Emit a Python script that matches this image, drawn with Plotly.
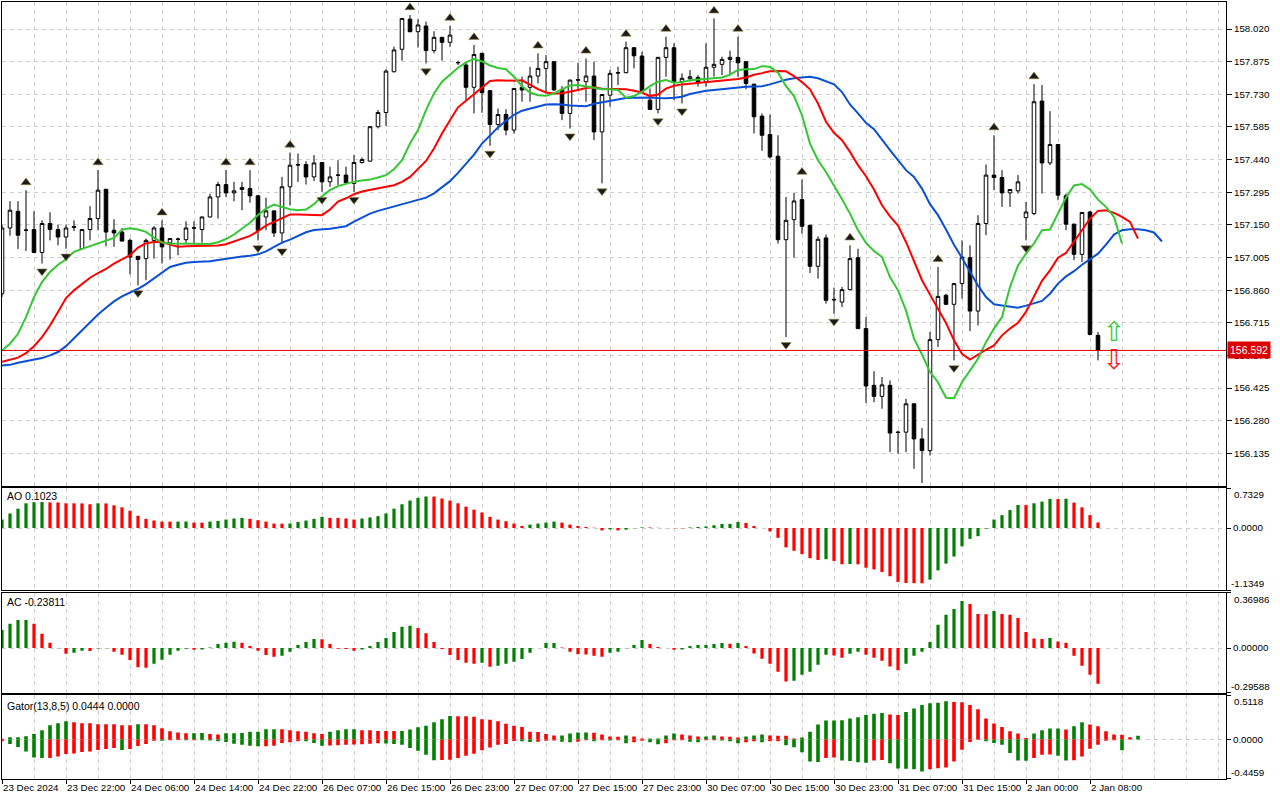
import plotly.graph_objects as go

# ---------------- data ----------------
tick_bars = [0, 8, 16, 24, 32, 40, 48, 56, 64, 72, 80, 88, 96, 104, 112, 120, 128, 136]
tick_labels = ["23 Dec 2024", "23 Dec 22:00", "24 Dec 06:00", "24 Dec 14:00", "24 Dec 22:00",
               "26 Dec 07:00", "26 Dec 15:00", "26 Dec 23:00", "27 Dec 07:00", "27 Dec 15:00",
               "27 Dec 23:00", "30 Dec 07:00", "30 Dec 15:00", "30 Dec 23:00", "31 Dec 07:00",
               "31 Dec 15:00", "2 Jan 00:00", "2 Jan 08:00"]

price_ticks = [158.020, 157.875, 157.730, 157.585, 157.440, 157.295, 157.150, 157.005,
               156.860, 156.715, 156.570, 156.425, 156.280, 156.135]

opens = [156.844, 157.136, 157.210, 157.126, 157.129, 157.027, 157.156, 157.129, 157.096, 157.138,
         157.044, 157.129, 157.178, 157.308, 157.126, 157.118, 157.081, 157.010, 157.000, 157.081,
         157.136, 157.070, 157.087, 157.084, 157.135, 157.129, 157.185, 157.274, 157.329, 157.292,
         157.307, 157.311, 157.279, 157.185, 157.212, 157.114, 157.319, 157.418, 157.418, 157.363,
         157.427, 157.341, 157.370, 157.371, 157.334, 157.427, 157.433, 157.586, 157.649, 157.830,
         157.930, 158.064, 158.008, 158.033, 157.924, 157.983, 157.961, 157.870, 157.860, 157.761,
         157.912, 157.746, 157.596, 157.640, 157.571, 157.761, 157.761, 157.811, 157.845, 157.875,
         157.752, 157.645, 157.795, 157.786, 157.811, 157.563, 157.726, 157.824, 157.826, 157.937,
         157.900, 157.704, 157.663, 157.894, 157.937, 157.786, 157.799, 157.805, 157.786, 157.850,
         157.863, 157.885, 157.894, 157.875, 157.775, 157.633, 157.551, 157.455, 157.084, 157.173,
         157.262, 157.148, 156.966, 157.092, 156.819, 156.807, 156.862, 157.004, 156.689, 156.437,
         156.388, 156.437, 156.229, 156.229, 156.355, 156.199, 156.147, 156.640, 156.837, 156.797,
         156.889, 157.004, 156.767, 157.156, 157.371, 157.360, 157.292, 157.301, 157.182, 157.200,
         157.700, 157.425, 157.507, 157.279, 157.153, 157.019, 157.207, 156.659]
highs = [157.150, 157.255, 157.255, 157.304, 157.210, 157.170, 157.206, 157.151, 157.151, 157.170,
         157.131, 157.233, 157.393, 157.310, 157.175, 157.136, 157.089, 157.012, 157.089, 157.144,
         157.170, 157.091, 157.093, 157.166, 157.166, 157.187, 157.289, 157.341, 157.393, 157.341,
         157.341, 157.393, 157.281, 157.271, 157.214, 157.363, 157.471, 157.467, 157.433, 157.460,
         157.429, 157.408, 157.437, 157.408, 157.460, 157.449, 157.588, 157.660, 157.841, 157.941,
         158.069, 158.082, 158.064, 158.053, 158.010, 157.985, 158.035, 157.879, 157.875, 157.949,
         157.914, 157.748, 157.667, 157.664, 157.758, 157.808, 157.852, 157.912, 157.904, 157.877,
         157.766, 157.795, 157.870, 157.889, 157.875, 157.731, 157.838, 157.852, 157.964, 157.939,
         157.919, 157.756, 157.896, 157.986, 157.956, 157.823, 157.838, 157.815, 157.956, 158.067,
         157.897, 157.924, 157.986, 157.877, 157.777, 157.645, 157.640, 157.548, 157.274, 157.292,
         157.351, 157.150, 157.099, 157.107, 156.871, 156.874, 157.059, 157.044, 156.740, 156.500,
         156.474, 156.459, 156.236, 156.377, 156.357, 156.247, 156.674, 156.963, 156.844, 156.892,
         157.081, 157.059, 157.193, 157.418, 157.548, 157.393, 157.309, 157.371, 157.252, 157.775,
         157.771, 157.655, 157.509, 157.289, 157.155, 157.207, 157.212, 156.674]
lows = [156.830, 157.102, 157.043, 157.034, 157.025, 156.978, 157.081, 157.059, 157.044, 157.122,
        157.043, 157.081, 157.126, 157.055, 157.052, 157.076, 156.930, 156.881, 156.904, 157.000,
        156.978, 156.996, 157.015, 157.067, 157.067, 157.070, 157.183, 157.178, 157.274, 157.255,
        157.215, 157.248, 157.081, 157.126, 157.096, 157.067, 157.237, 157.341, 157.329, 157.344,
        157.296, 157.319, 157.326, 157.336, 157.296, 157.422, 157.430, 157.578, 157.590, 157.828,
        157.879, 158.006, 157.938, 157.867, 157.912, 157.879, 157.941, 157.860, 157.704, 157.645,
        157.648, 157.501, 157.571, 157.548, 157.556, 157.697, 157.697, 157.778, 157.734, 157.747,
        157.615, 157.578, 157.749, 157.697, 157.526, 157.334, 157.675, 157.771, 157.823, 157.845,
        157.737, 157.660, 157.645, 157.808, 157.704, 157.689, 157.786, 157.764, 157.764, 157.808,
        157.815, 157.815, 157.808, 157.752, 157.556, 157.479, 157.445, 157.067, 156.651, 157.004,
        157.111, 156.936, 156.911, 156.800, 156.755, 156.785, 156.859, 156.687, 156.359, 156.362,
        156.333, 156.140, 156.133, 156.140, 156.066, 156.003, 156.125, 156.607, 156.793, 156.548,
        156.822, 156.678, 156.703, 157.104, 157.304, 157.230, 157.230, 157.289, 157.081, 157.193,
        157.289, 157.415, 157.259, 157.126, 156.993, 156.985, 156.659, 156.548]
closes = [157.136, 157.215, 157.104, 157.127, 157.027, 157.156, 157.129, 157.096, 157.136, 157.142,
          157.129, 157.178, 157.304, 157.118, 157.114, 157.078, 157.007, 156.996, 157.081, 157.136,
          157.052, 157.089, 157.086, 157.136, 157.137, 157.185, 157.274, 157.329, 157.292, 157.301,
          157.316, 157.279, 157.126, 157.212, 157.114, 157.319, 157.415, 157.416, 157.363, 157.425,
          157.341, 157.363, 157.371, 157.337, 157.427, 157.440, 157.586, 157.649, 157.833, 157.927,
          158.067, 158.008, 158.038, 157.924, 157.983, 157.961, 157.993, 157.871, 157.761, 157.907,
          157.737, 157.596, 157.640, 157.571, 157.756, 157.749, 157.811, 157.845, 157.875, 157.749,
          157.645, 157.793, 157.793, 157.811, 157.563, 157.729, 157.823, 157.826, 157.937, 157.901,
          157.746, 157.663, 157.894, 157.937, 157.786, 157.801, 157.808, 157.781, 157.850, 157.863,
          157.885, 157.894, 157.870, 157.778, 157.630, 157.548, 157.452, 157.084, 157.170, 157.256,
          157.144, 156.966, 157.086, 156.815, 156.817, 156.862, 157.000, 156.689, 156.434, 156.388,
          156.439, 156.225, 156.228, 156.355, 156.199, 156.147, 156.640, 156.832, 156.797, 156.889,
          157.007, 156.767, 157.156, 157.371, 157.360, 157.292, 157.307, 157.341, 157.207, 157.697,
          157.425, 157.507, 157.282, 157.153, 157.019, 157.205, 156.663, 156.592]

jaw = [156.525, 156.528, 156.537, 156.543, 156.551, 156.558, 156.570, 156.585, 156.611, 156.647,
       156.683, 156.718, 156.752, 156.782, 156.810, 156.832, 156.849, 156.866, 156.887, 156.912,
       156.939, 156.963, 156.973, 156.982, 156.985, 156.987, 156.988, 156.994, 157.000, 157.004,
       157.009, 157.013, 157.019, 157.032, 157.050, 157.071, 157.084, 157.102, 157.117, 157.127,
       157.129, 157.133, 157.138, 157.144, 157.164, 157.182, 157.200, 157.212, 157.222, 157.233,
       157.243, 157.250, 157.262, 157.271, 157.290, 157.316, 157.344, 157.381, 157.421, 157.462,
       157.511, 157.548, 157.583, 157.612, 157.639, 157.657, 157.667, 157.676, 157.685, 157.686,
       157.685, 157.680, 157.677, 157.677, 157.688, 157.695, 157.701, 157.707, 157.713, 157.715,
       157.716, 157.716, 157.713, 157.712, 157.715, 157.719, 157.731, 157.740, 157.746, 157.749,
       157.753, 157.759, 157.762, 157.764, 157.765, 157.766, 157.774, 157.786, 157.795, 157.801,
       157.805, 157.808, 157.801, 157.789, 157.774, 157.740, 157.685, 157.645, 157.603, 157.575,
       157.526, 157.482, 157.437, 157.393, 157.363, 157.311, 157.242, 157.193, 157.129, 157.062,
       157.003, 156.944, 156.881, 156.829, 156.797, 156.792, 156.788, 156.782, 156.791, 156.800,
       156.812, 156.844, 156.889, 156.921, 156.944, 156.973, 156.996, 157.022, 157.062, 157.107,
       157.126, 157.130, 157.130, 157.126, 157.116, 157.076]
teeth = [156.542, 156.551, 156.560, 156.580, 156.611, 156.651, 156.703, 156.763, 156.825, 156.859,
         156.886, 156.915, 156.936, 156.954, 156.978, 156.997, 157.015, 157.049, 157.068, 157.074,
         157.074, 157.062, 157.053, 157.055, 157.055, 157.055, 157.056, 157.058, 157.064, 157.076,
         157.089, 157.101, 157.122, 157.147, 157.163, 157.178, 157.196, 157.196, 157.196, 157.196,
         157.193, 157.218, 157.253, 157.268, 157.286, 157.298, 157.304, 157.311, 157.319, 157.326,
         157.341, 157.363, 157.397, 157.434, 157.489, 157.556, 157.615, 157.672, 157.701, 157.729,
         157.761, 157.789, 157.792, 157.790, 157.790, 157.792, 157.771, 157.753, 157.738, 157.734,
         157.735, 157.741, 157.749, 157.758, 157.761, 157.755, 157.753, 157.752, 157.752, 157.746,
         157.738, 157.722, 157.729, 157.755, 157.768, 157.774, 157.777, 157.780, 157.786, 157.789,
         157.790, 157.795, 157.798, 157.805, 157.817, 157.824, 157.832, 157.833, 157.832, 157.811,
         157.784, 157.752, 157.689, 157.608, 157.559, 157.526, 157.474, 157.415, 157.366, 157.307,
         157.237, 157.188, 157.147, 157.074, 156.985, 156.904, 156.840, 156.778, 156.714, 156.637,
         156.577, 156.551, 156.574, 156.595, 156.614, 156.659, 156.689, 156.715, 156.763, 156.829,
         156.901, 156.948, 157.004, 157.025, 157.073, 157.126, 157.178, 157.212, 157.215, 157.203,
         157.185, 157.163, 157.089]
lips = [156.592, 156.622, 156.666, 156.740, 156.829, 156.896, 156.941, 156.973, 156.997, 157.030,
        157.043, 157.055, 157.070, 157.079, 157.092, 157.129, 157.135, 157.129, 157.119, 157.093,
        157.071, 157.067, 157.067, 157.065, 157.064, 157.064, 157.065, 157.073, 157.087, 157.107,
        157.132, 157.159, 157.194, 157.222, 157.240, 157.230, 157.219, 157.215, 157.218, 157.242,
        157.277, 157.304, 157.322, 157.332, 157.342, 157.347, 157.351, 157.360, 157.371, 157.397,
        157.437, 157.511, 157.571, 157.660, 157.734, 157.786, 157.818, 157.848, 157.872, 157.887,
        157.876, 157.858, 157.847, 157.841, 157.808, 157.766, 157.738, 157.726, 157.723, 157.734,
        157.752, 157.769, 157.771, 157.765, 157.756, 157.752, 157.752, 157.749, 157.715, 157.722,
        157.741, 157.766, 157.786, 157.793, 157.781, 157.784, 157.792, 157.795, 157.798, 157.801,
        157.805, 157.817, 157.838, 157.841, 157.842, 157.855, 157.852, 157.826, 157.766, 157.722,
        157.637, 157.511, 157.437, 157.385, 157.326, 157.264, 157.200, 157.126, 157.070, 157.034,
        157.007, 156.918, 156.859, 156.770, 156.644, 156.574, 156.496, 156.451, 156.382, 156.380,
        156.451, 156.503, 156.555, 156.629, 156.689, 156.740, 156.874, 156.970, 157.022, 157.067,
        157.126, 157.129, 157.200, 157.271, 157.325, 157.331, 157.307, 157.262, 157.230, 157.185,
        157.067]

fractal_up = [3, 12, 20, 28, 31, 36, 51, 56, 59, 67, 73, 78, 83, 89, 92, 100, 106, 117, 124, 129]
fractal_down = [5, 8, 17, 32, 35, 40, 44, 53, 61, 71, 75, 82, 85, 98, 104, 115, 119, 128]

bid = 156.592
signal_bar = [139]
signal_up_price = [156.663]
signal_down_price = [156.539]

ao = [0.155, 0.267, 0.354, 0.453, 0.472, 0.475, 0.470, 0.468, 0.453, 0.452,
      0.451, 0.435, 0.453, 0.450, 0.416, 0.379, 0.317, 0.224, 0.168, 0.137,
      0.118, 0.117, 0.118, 0.119, 0.099, 0.098, 0.118, 0.130, 0.155, 0.174,
      0.186, 0.168, 0.143, 0.118, 0.081, 0.080, 0.082, 0.112, 0.137, 0.168,
      0.205, 0.186, 0.185, 0.174, 0.155, 0.174, 0.193, 0.217, 0.267, 0.354,
      0.435, 0.503, 0.553, 0.578, 0.576, 0.540, 0.503, 0.453, 0.391, 0.335,
      0.286, 0.205, 0.155, 0.124, 0.081, 0.037, 0.062, 0.081, 0.099, 0.118,
      0.099, 0.062, 0.037, 0.019, 0.006, -0.043, -0.025, -0.043, -0.030, -0.005,
      0.012, 0.010, 0.004, -0.002, -0.004, -0.006, 0.010, 0.020, 0.030, 0.050,
      0.075, 0.076, 0.112, 0.093, 0.037, 0.000, -0.062, -0.180, -0.354, -0.416,
      -0.478, -0.553, -0.584, -0.571, -0.602, -0.664, -0.660, -0.665, -0.727, -0.758,
      -0.807, -0.882, -0.987, -1.006, -1.010, -1.012, -0.944, -0.776, -0.652, -0.522,
      -0.335, -0.199, -0.149, -0.012, 0.155, 0.236, 0.329, 0.422, 0.420, 0.453,
      0.484, 0.534, 0.530, 0.537, 0.466, 0.379, 0.236, 0.1023]
ac = [0.120, 0.162, 0.186, 0.187, 0.162, 0.095, 0.036, -0.002, -0.038, -0.031,
      -0.018, -0.019, -0.003, -0.001, -0.024, -0.044, -0.080, -0.127, -0.131, -0.104,
      -0.078, -0.044, -0.018, -0.004, -0.011, -0.010, 0.004, 0.027, 0.036, 0.042,
      0.036, 0.013, -0.018, -0.047, -0.058, -0.051, -0.024, 0.020, 0.040, 0.060,
      0.059, 0.027, -0.004, -0.007, -0.018, -0.009, 0.013, 0.040, 0.067, 0.107,
      0.142, 0.149, 0.133, 0.098, 0.040, -0.007, -0.047, -0.080, -0.098, -0.104,
      -0.098, -0.124, -0.118, -0.104, -0.091, -0.073, -0.031, 0.000, 0.033, 0.034,
      0.004, -0.024, -0.042, -0.043, -0.051, -0.058, -0.031, -0.024, -0.002, 0.020,
      0.053, 0.027, 0.007, 0.001, -0.011, -0.009, 0.013, 0.020, 0.021, 0.027,
      0.033, 0.029, 0.034, 0.013, -0.036, -0.071, -0.104, -0.158, -0.222, -0.218,
      -0.178, -0.158, -0.111, -0.044, -0.049, -0.064, -0.038, -0.024, -0.044, -0.064,
      -0.084, -0.122, -0.147, -0.104, -0.051, -0.024, 0.040, 0.155, 0.222, 0.260,
      0.313, 0.293, 0.226, 0.225, 0.246, 0.226, 0.222, 0.200, 0.107, 0.064,
      0.060, 0.067, 0.044, 0.036, -0.051, -0.118, -0.178, -0.23811]
gator_upper = [0.010, 0.027, 0.028, 0.038, 0.065, 0.108, 0.166, 0.189, 0.212, 0.200,
               0.189, 0.188, 0.177, 0.176, 0.175, 0.166, 0.165, 0.177, 0.176, 0.165,
               0.131, 0.096, 0.081, 0.073, 0.074, 0.075, 0.065, 0.058, 0.073, 0.074,
               0.075, 0.089, 0.090, 0.119, 0.120, 0.119, 0.108, 0.096, 0.089, 0.073,
               0.065, 0.089, 0.108, 0.119, 0.120, 0.108, 0.107, 0.100, 0.099, 0.098,
               0.100, 0.116, 0.142, 0.158, 0.200, 0.235, 0.270, 0.269, 0.268, 0.262,
               0.235, 0.227, 0.212, 0.181, 0.158, 0.146, 0.089, 0.088, 0.065,
               0.046, 0.047, 0.069, 0.081, 0.082, 0.080, 0.058, 0.035, 0.034, 0.046,
               0.035, 0.012, 0.013, 0.014, 0.046, 0.069, 0.058, 0.046, 0.035, 0.036,
               0.046, 0.035, 0.034, 0.023, 0.035, 0.046, 0.058, 0.046, 0.045, 0.044,
               0.012, 0.023, 0.090,
               0.173, 0.219, 0.220, 0.222, 0.243, 0.258, 0.281, 0.296, 0.304, 0.289,
               0.281, 0.316, 0.358, 0.397, 0.416, 0.424, 0.439, 0.431, 0.430, 0.397,
               0.347, 0.243, 0.185, 0.146, 0.096, 0.069, 0.019, 0.069, 0.108, 0.127,
               0.128, 0.116, 0.154, 0.200, 0.173, 0.154, 0.096, 0.058, 0.055, 0.027,
               0.0444]
gator_lower = [-0.020, -0.050, -0.085, -0.135, -0.204, -0.212, -0.210, -0.193, -0.166, -0.158,
               -0.142, -0.135, -0.119, -0.108, -0.096, -0.119, -0.108, -0.073, -0.050, -0.012,
               -0.013, -0.008, -0.004, -0.008, -0.007, -0.008, -0.009, -0.019, -0.027, -0.046,
               -0.058, -0.069, -0.077, -0.076, -0.069, -0.039, -0.031, -0.019, -0.020, -0.039,
               -0.069, -0.068, -0.065, -0.058, -0.057, -0.052, -0.046, -0.043, -0.045, -0.050,
               -0.058, -0.096, -0.127, -0.173, -0.236, -0.234, -0.230, -0.212, -0.185, -0.162,
               -0.123, -0.089, -0.058, -0.050, -0.015, -0.020, -0.027, -0.025, -0.012,
               -0.011, -0.023, -0.031, -0.023, -0.008, -0.019, -0.008, -0.009, -0.006, -0.042,
               -0.031, -0.012, -0.031, -0.054, -0.042, -0.008, -0.007, -0.023, -0.031, -0.008,
               -0.007, -0.010, -0.019, -0.042, -0.031, -0.019, -0.031, -0.019, -0.018, -0.065,
               -0.088, -0.146, -0.250,
               -0.258, -0.212, -0.205, -0.240, -0.245, -0.260, -0.265, -0.240, -0.235, -0.270,
               -0.330, -0.335, -0.340, -0.366, -0.339, -0.327, -0.320, -0.250, -0.116, -0.027,
               -0.002, -0.019, -0.039, -0.058, -0.154, -0.239, -0.242, -0.212, -0.173, -0.172,
               -0.185, -0.239, -0.238, -0.193, -0.104, -0.058, -0.012, -0.008, -0.123, 0.0,
               0.0]

main_range = [155.992, 158.140]
ao_range = [-1.1349, 0.7329]
ac_range = [-0.29588, 0.36986]
gator_range = [-0.4459, 0.5118]
x_range = [0, 153]

# ---------------- styling ----------------
W, H = 1280, 800
GREEN = "#008000"
RED = "#ff0000"
GRID = "#cfcfcf"
DASH = "4px,4px"
FONT = "Liberation Sans"
FS = 9.8


def px_x(p):
    return p / W


def px_y(p):
    return 1 - p / H


x_dom = [px_x(2), px_x(1226)]
dom_main = [px_y(485.5), px_y(2)]
dom_ao = [px_y(590), px_y(488)]
dom_ac = [px_y(692.5), px_y(592.5)]
dom_gt = [px_y(778.5), px_y(695)]


def updown_colors(vals, first):
    cols = [first]
    for i in range(1, len(vals)):
        cols.append(GREEN if vals[i] > vals[i - 1] else RED)
    return cols


def abs_colors(vals, first):
    cols = [first]
    for i in range(1, len(vals)):
        cols.append(GREEN if abs(vals[i]) > abs(vals[i - 1]) else RED)
    return cols


fig = go.Figure()
bars = list(range(len(opens)))

fig.add_trace(go.Candlestick(
    x=bars, open=opens, high=highs, low=lows, close=closes,
    increasing=dict(line=dict(color="black", width=1), fillcolor="white"),
    decreasing=dict(line=dict(color="black", width=1), fillcolor="black"),
    whiskerwidth=0, xaxis="x", yaxis="y", hoverinfo="skip", showlegend=False))

for series, col in ((jaw, "#0a4fd6"), (teeth, "#ff0000"), (lips, "#33c833")):
    fig.add_trace(go.Scatter(x=list(range(len(series))), y=series, mode="lines",
                             line=dict(color=col, width=2), xaxis="x", yaxis="y",
                             hoverinfo="skip", showlegend=False))

frac_off = 0.034
fig.add_trace(go.Scatter(x=fractal_up, y=[highs[i] + frac_off for i in fractal_up], mode="markers",
                         marker=dict(symbol="triangle-up", size=9, color="#1a1a1a",
                                     line=dict(color="#9a8a40", width=0.6)),
                         xaxis="x", yaxis="y", hoverinfo="skip", showlegend=False))
fig.add_trace(go.Scatter(x=fractal_down, y=[lows[i] - frac_off for i in fractal_down], mode="markers",
                         marker=dict(symbol="triangle-down", size=9, color="#1a1a1a",
                                     line=dict(color="#9a8a40", width=0.6)),
                         xaxis="x", yaxis="y", hoverinfo="skip", showlegend=False))

fig.add_trace(go.Scatter(x=signal_bar, y=signal_up_price, mode="text", text=["⇧"],
                         textfont=dict(size=27, color="#33cc33", family="DejaVu Sans"),
                         xaxis="x", yaxis="y", hoverinfo="skip", showlegend=False))
fig.add_trace(go.Scatter(x=signal_bar, y=signal_down_price, mode="text", text=["⇩"],
                         textfont=dict(size=27, color="#ff2020", family="DejaVu Sans"),
                         xaxis="x", yaxis="y", hoverinfo="skip", showlegend=False))

# AO
fig.add_trace(go.Bar(x=list(range(len(ao))), y=ao, width=0.4,
                     marker=dict(color=updown_colors(ao, GREEN), line=dict(width=0)),
                     xaxis="x2", yaxis="y2", hoverinfo="skip", showlegend=False))
# AC
fig.add_trace(go.Bar(x=list(range(len(ac))), y=ac, width=0.4,
                     marker=dict(color=updown_colors(ac, GREEN), line=dict(width=0)),
                     xaxis="x3", yaxis="y3", hoverinfo="skip", showlegend=False))
# Gator
fig.add_trace(go.Bar(x=list(range(len(gator_upper))), y=gator_upper, width=0.45,
                     marker=dict(color=updown_colors(gator_upper, RED), line=dict(width=0)),
                     xaxis="x4", yaxis="y4", hoverinfo="skip", showlegend=False))
fig.add_trace(go.Bar(x=list(range(len(gator_lower))), y=gator_lower, width=0.45,
                     marker=dict(color=abs_colors(gator_lower, RED), line=dict(width=0)),
                     xaxis="x4", yaxis="y4", hoverinfo="skip", showlegend=False))

tickfont = dict(family=FONT, size=FS, color="black")


def xaxis_cfg(anchor, show_labels):
    cfg = dict(domain=x_dom, range=x_range, anchor=anchor, type="linear",
               tickmode="array", tickvals=tick_bars, ticktext=tick_labels, tickangle=0,
               showticklabels=show_labels, showgrid=True, gridcolor=GRID, griddash=DASH,
               gridwidth=1, zeroline=False, showline=True, mirror=True, linecolor="black",
               linewidth=1, tickfont=tickfont, fixedrange=True, automargin=False,
               minor=dict(tickmode="linear", tick0=0, dtick=4, showgrid=True,
                          gridcolor=GRID, griddash=DASH, ticks=""),
               ticks="outside" if show_labels else "", ticklen=4, tickcolor="black")
    if show_labels:
        cfg["ticklabelposition"] = "outside right"
    return cfg


def sub_yaxis(dom, rng, anchor, zero_text):
    return dict(domain=dom, range=rng, anchor=anchor, side="right", automargin=False,
                tickmode="array", tickvals=[rng[1], 0, rng[0]], ticktext=["", zero_text, ""],
                ticks="outside", ticklen=4, tickcolor="black", tickfont=tickfont,
                showgrid=True, gridcolor=GRID, griddash=DASH, zeroline=False,
                showline=True, mirror=True, linecolor="black", linewidth=1, fixedrange=True)


layout = dict(
    width=W, height=H, margin=dict(l=0, r=0, t=0, b=0, autoexpand=False),
    paper_bgcolor="white", plot_bgcolor="white", hovermode=False,
    showlegend=False, barmode="overlay", boxgap=0.36,
    font=dict(family=FONT, size=FS, color="black"),
    xaxis=dict(xaxis_cfg("y", False), rangeslider=dict(visible=False)),
    xaxis2=dict(xaxis_cfg("y2", False), matches="x"),
    xaxis3=dict(xaxis_cfg("y3", False), matches="x"),
    xaxis4=dict(xaxis_cfg("y4", True), matches="x"),
    yaxis=dict(domain=dom_main, range=main_range, anchor="x", side="right", automargin=False,
               tickmode="array", tickvals=price_ticks, ticktext=[f"{v:.3f}" for v in price_ticks],
               ticks="outside", ticklen=5, tickcolor="black", tickfont=tickfont,
               showgrid=True, gridcolor=GRID, griddash=DASH, zeroline=False,
               showline=True, mirror=True, linecolor="black", linewidth=1, fixedrange=True),
    yaxis2=sub_yaxis(dom_ao, ao_range, "x2", "0.0000"),
    yaxis3=sub_yaxis(dom_ac, ac_range, "x3", "0.00000"),
    yaxis4=sub_yaxis(dom_gt, gator_range, "x4", "0.0000"),
)
fig.update_layout(layout)

# current price line
fig.add_shape(type="line", xref="x domain", x0=0, x1=1, yref="y", y0=bid, y1=bid,
              line=dict(color="#e00000", width=1))

ann = []
lab_x = px_x(1233)
for yref, rng, fmt in (("y2", ao_range, "{:.4f}"), ("y3", ac_range, "{:.5f}"), ("y4", gator_range, "{:.4f}")):
    ann.append(dict(xref="paper", x=lab_x, xanchor="left", yref=yref, y=rng[1], yanchor="top",
                    text=fmt.format(rng[1]), showarrow=False, font=tickfont, borderpad=0))
    ann.append(dict(xref="paper", x=lab_x - px_x(3), xanchor="left", yref=yref, y=rng[0], yanchor="bottom",
                    text=fmt.format(rng[0]), showarrow=False, font=tickfont, borderpad=0))

ann.append(dict(xref="paper", x=px_x(1227), xanchor="left", yref="y", y=bid, yanchor="middle",
                text=f"{bid:.3f}", showarrow=False, bgcolor="#dd0000",
                font=dict(family=FONT, size=10.5, color="white"), borderpad=2))

ann.append(dict(xref="paper", x=px_x(5), xanchor="left", yref="paper", y=px_y(488), yanchor="top",
                text=f"AO {ao[-1]:.4f}", showarrow=False, font=dict(family=FONT, size=10.5, color="black")))
ann.append(dict(xref="paper", x=px_x(5), xanchor="left", yref="paper", y=px_y(594), yanchor="top",
                text=f"AC {ac[-1]:.5f}", showarrow=False, font=dict(family=FONT, size=10.5, color="black")))
ann.append(dict(xref="paper", x=px_x(5), xanchor="left", yref="paper", y=px_y(698), yanchor="top",
                text=f"Gator(13,8,5) {gator_upper[-1]:.4f} {abs(gator_lower[-1]):.4f}", showarrow=False,
                font=dict(family=FONT, size=10.5, color="black")))
fig.update_layout(annotations=ann)

fig.write_html("out.html", config=dict(displayModeBar=False, staticPlot=True),
               post_script="document.body.style.margin='0px';document.body.style.overflow='hidden';")
